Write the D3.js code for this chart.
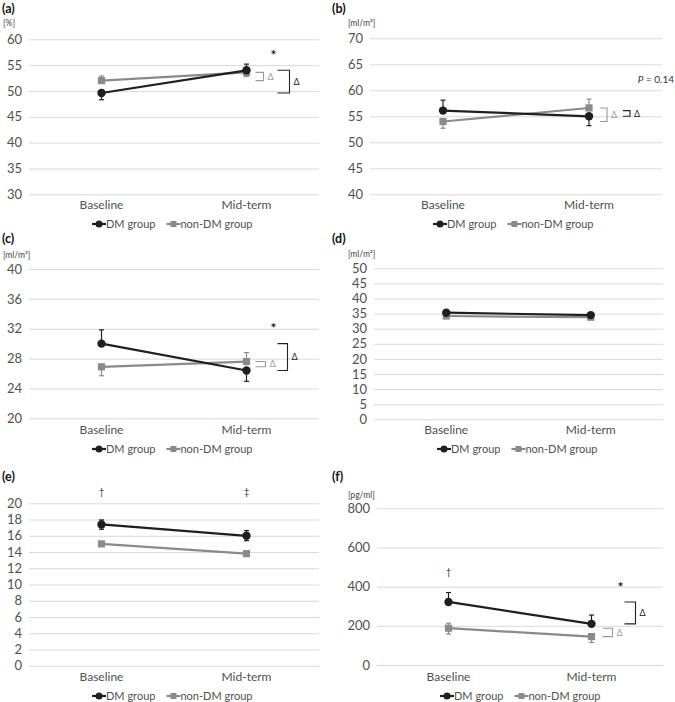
<!DOCTYPE html>
<html><head><meta charset="utf-8">
<script src="https://cdn.jsdelivr.net/npm/d3@7/dist/d3.min.js"></script>
<style>
body{margin:0;background:#fff;}
svg{display:block;}
text{font-family:Lato, "Open Sans", sans-serif;}
</style></head>
<body>
<svg id="chart" width="675" height="702"></svg>
<script>
const categories = ["Baseline", "Mid-term"];
const seriesNames = ["DM group", "non-DM group"];

// (a) [%]
const aTicks = [30, 35, 40, 45, 50, 55, 60];
const aDM = [49.6, 54.0], aDMUp = [0, 1.2], aDMDown = [1.3, 0];
const aNon = [52.0, 53.6], aNonUp = [0.9, 0], aNonDown = [0, 0.8];
// (b) [ml/m2]
const bTicks = [40, 45, 50, 55, 60, 65, 70];
const bDM = [56.1, 55.0], bDMUp = [2.0, 0], bDMDown = [0, 1.8];
const bNon = [54.0, 56.6], bNonUp = [0, 1.7], bNonDown = [1.3, 0];
// (c) [ml/m2]
const cTicks = [20, 24, 28, 32, 36, 40];
const cDM = [30.0, 26.4], cDMUp = [1.85, 0], cDMDown = [0, 1.45];
const cNon = [26.9, 27.6], cNonUp = [0, 1.2], cNonDown = [1.2, 0];
// (d) [ml/m2]
const dTicks = [0, 5, 10, 15, 20, 25, 30, 35, 40, 45, 50];
const dDM = [35.3, 34.5], dDMUp = [0.6, 0.4], dDMDown = [0, 0];
const dNon = [34.2, 33.8], dNonUp = [0, 0], dNonDown = [0.5, 0.5];
// (e)
const eTicks = [0, 2, 4, 6, 8, 10, 12, 14, 16, 18, 20];
const eDM = [17.4, 16.0], eDMUp = [0.55, 0.65], eDMDown = [0.6, 0.6];
const eNon = [15.0, 13.8], eNonUp = [0.3, 0.25], eNonDown = [0.3, 0.25];
// (f) [pg/ml]
const fTicks = [0, 200, 400, 600, 800];
const fDM = [322, 210], fDMUp = [48, 45], fDMDown = [0, 0];
const fNon = [188, 145], fNonUp = [25, 0], fNonDown = [30, 30];

const DMC = "#1f1f1f", NONC = "#8a8a8a", GRID = "#d9d9d9", TXT = "#505050";

const panels = [
  {label:"(a)", unit:"[%]", lx:2, ly:13, ux:3, uy:23, x0:29, x1:319, yTop:39.3, yBot:194.3,
   ticks:aTicks, dm:aDM, dmUp:aDMUp, dmDn:aDMDown, non:aNon, nonUp:aNonUp, nonDn:aNonDown,
   catY:205, legY:224, star:true, gray:[9,17], black:[31,43]},
  {label:"(b)", unit:"[ml/m²]", lx:332, ly:13, ux:348, uy:23, x0:370, x1:662, yTop:38.3, yBot:194.3,
   ticks:bTicks, dm:bDM, dmUp:bDMUp, dmDn:bDMDown, non:bNon, nonUp:bNonUp, nonDn:bNonDown,
   catY:205, legY:224, star:false, gray:[11,18], black:[34,41], pText:{v:62, x:674}},
  {label:"(c)", unit:"[ml/m²]", lx:2, ly:243, ux:3, uy:255, x0:29, x1:319, yTop:269, yBot:418.3,
   ticks:cTicks, dm:cDM, dmUp:cDMUp, dmDn:cDMDown, non:cNon, nonUp:cNonUp, nonDn:cNonDown,
   catY:430, legY:449, star:true, gray:[9,19], black:[31,41]},
  {label:"(d)", unit:"[ml/m²]", lx:332, ly:243, ux:348, uy:254, x0:374, x1:663, yTop:268.3, yBot:419.3,
   ticks:dTicks, dm:dDM, dmUp:dDMUp, dmDn:dDMDown, non:dNon, nonUp:dNonUp, nonDn:dNonDown,
   catY:430, legY:449, star:false},
  {label:"(e)", unit:"", lx:2, ly:481, x0:29, x1:319, yTop:503.3, yBot:665.7,
   ticks:eTicks, dm:eDM, dmUp:eDMUp, dmDn:eDMDown, non:eNon, nonUp:eNonUp, nonDn:eNonDown,
   catY:677, legY:696, star:false, marks:[{c:0, t:"†", v:21.4}, {c:1, t:"‡", v:21.4}]},
  {label:"(f)", unit:"[pg/ml]", lx:332, ly:481, ux:348, uy:495, x0:377, x1:663, yTop:508.3, yBot:665,
   ticks:fTicks, dm:fDM, dmUp:fDMUp, dmDn:fDMDown, non:fNon, nonUp:fNonUp, nonDn:fNonDown,
   catY:677, legY:696, star:true, gray:[11,21], black:[33,44], marks:[{c:0, t:"†", v:478}]}
];

const svg = d3.select("#chart");

panels.forEach(p => {
  const g = svg.append("g");
  const x = d3.scaleBand().domain(categories).range([p.x0, p.x1]);
  const cx = c => x(c) + x.bandwidth() / 2;
  const y = d3.scaleLinear().domain([d3.min(p.ticks), d3.max(p.ticks)]).range([p.yBot, p.yTop]);

  // panel label
  g.append("text").attr("x", p.lx).attr("y", p.ly).text(p.label)
    .attr("font-family", "Liberation Sans, Arial, sans-serif").attr("font-weight", "bold")
    .attr("font-size", 12.5).attr("fill", "#111");
  if (p.unit) g.append("text").attr("x", p.ux).attr("y", p.uy).attr("dy", "0.35em")
    .text(p.unit).attr("font-size", 8.5).attr("fill", "#444");

  // y axis with gridlines
  const ax = g.append("g").attr("transform", `translate(${p.x0},0)`)
    .call(d3.axisLeft(y).tickValues(p.ticks).tickSize(-(p.x1 - p.x0)).tickPadding(7).tickFormat(d3.format("d")));
  ax.select(".domain").remove();
  ax.selectAll(".tick line").attr("stroke", GRID).attr("stroke-width", 1);
  ax.selectAll(".tick text").attr("font-size", 13).attr("fill", TXT)
    .attr("font-family", "Lato, sans-serif");

  // x category labels
  g.selectAll(".cat").data(categories).enter().append("text")
    .attr("x", d => cx(d)).attr("y", p.catY).attr("dy", "0.35em").attr("text-anchor", "middle")
    .attr("font-size", 12).attr("fill", TXT).text(d => d);

  const series = [
    {v:p.non, up:p.nonUp, dn:p.nonDn, color:NONC, shape:"square"},
    {v:p.dm, up:p.dmUp, dn:p.dmDn, color:DMC, shape:"circle"}
  ];
  series.forEach(s => {
    const pts = categories.map((c, i) => ({c, v:s.v[i], up:s.up[i], dn:s.dn[i]}));
    g.append("path").datum(pts)
      .attr("d", d3.line().x(d => cx(d.c)).y(d => y(d.v)))
      .attr("fill", "none").attr("stroke", s.color).attr("stroke-width", 2.2);
    // error bars
    pts.forEach(d => {
      const top = y(d.v + d.up), bot = y(d.v - d.dn);
      if (d.up > 0 || d.dn > 0) {
        g.append("line").attr("x1", cx(d.c)).attr("x2", cx(d.c)).attr("y1", top).attr("y2", bot)
          .attr("stroke", s.color).attr("stroke-width", 1.2);
      }
      if (d.up > 0) g.append("line").attr("x1", cx(d.c) - 2.5).attr("x2", cx(d.c) + 2.5)
        .attr("y1", top).attr("y2", top).attr("stroke", s.color).attr("stroke-width", 1.2);
      if (d.dn > 0) g.append("line").attr("x1", cx(d.c) - 2.5).attr("x2", cx(d.c) + 2.5)
        .attr("y1", bot).attr("y2", bot).attr("stroke", s.color).attr("stroke-width", 1.2);
    });
    if (s.shape === "circle") {
      g.selectAll(null).data(pts).enter().append("circle")
        .attr("cx", d => cx(d.c)).attr("cy", d => y(d.v)).attr("r", 4.2).attr("fill", s.color);
    } else {
      g.selectAll(null).data(pts).enter().append("rect")
        .attr("x", d => cx(d.c) - 3.6).attr("y", d => y(d.v) - 3.6)
        .attr("width", 7.2).attr("height", 7.2).attr("fill", s.color);
    }
  });

  // brackets (change within group at mid-term)
  const M = cx(categories[1]);
  function bracket(vals, off, color, fs) {
    const t = y(d3.max(vals)), b = y(d3.min(vals));
    const xa = M + off[0], xb = M + off[1];
    g.append("path").attr("d", `M${xa},${t}H${xb}V${b}H${xa}`)
      .attr("fill", "none").attr("stroke", color).attr("stroke-width", 1.1);
    g.append("text").attr("x", xb + 4).attr("y", (t + b) / 2).attr("dy", "0.35em")
      .attr("font-size", fs).attr("fill", color).text("Δ")
      .attr("font-family", "DejaVu Sans, sans-serif");
    return t;
  }
  if (p.gray) bracket(p.non, p.gray, "#9a9a9a", 9);
  if (p.black) {
    const t = bracket(p.dm, p.black, "#222", 9);
    if (p.star) g.append("text").attr("x", M + p.black[0] - 4).attr("y", t - 18).attr("dy", "0.55em")
      .attr("text-anchor", "middle").attr("font-size", 14).attr("font-weight", "bold")
      .attr("fill", "#222").text("*").attr("font-family", "Liberation Sans, Arial, sans-serif");
  }
  if (p.pText) {
    const pt = g.append("text").attr("x", p.pText.x).attr("y", y(p.pText.v)).attr("dy", "0.35em")
      .attr("text-anchor", "end").attr("font-size", 10).attr("fill", "#333");
    pt.append("tspan").attr("font-style", "italic").text("P");
    pt.append("tspan").text(" = 0.14");
  }
  if (p.marks) p.marks.forEach(m => {
    g.append("text").attr("x", cx(categories[m.c])).attr("y", y(m.v)).attr("dy", "0.35em")
      .attr("text-anchor", "middle").attr("font-size", 9).attr("fill", "#333").text(m.t)
      .attr("font-family", "DejaVu Sans, sans-serif");
  });

  // legend
  const leg = g.append("g").attr("transform", `translate(${p.x0 + 63},${p.legY})`);
  let lx = 0;
  [{n:seriesNames[0], color:DMC, shape:"circle"}, {n:seriesNames[1], color:NONC, shape:"square"}]
    .forEach((it, i) => {
      const item = leg.append("g").attr("transform", `translate(${lx},0)`);
      item.append("line").attr("x1", 0).attr("x2", 14).attr("y1", 0).attr("y2", 0)
        .attr("stroke", it.color).attr("stroke-width", 2.2);
      if (it.shape === "circle") item.append("circle").attr("cx", 7).attr("cy", 0).attr("r", 3.5).attr("fill", it.color);
      else item.append("rect").attr("x", 4).attr("y", -3).attr("width", 6).attr("height", 6).attr("fill", it.color);
      const t = item.append("text").attr("x", 14).attr("y", 0).attr("dy", "0.35em")
        .attr("font-size", 11).attr("fill", TXT).text(it.n);
      lx += 14 + t.node().getComputedTextLength() + 11;
    });
});
</script>
</body></html>
